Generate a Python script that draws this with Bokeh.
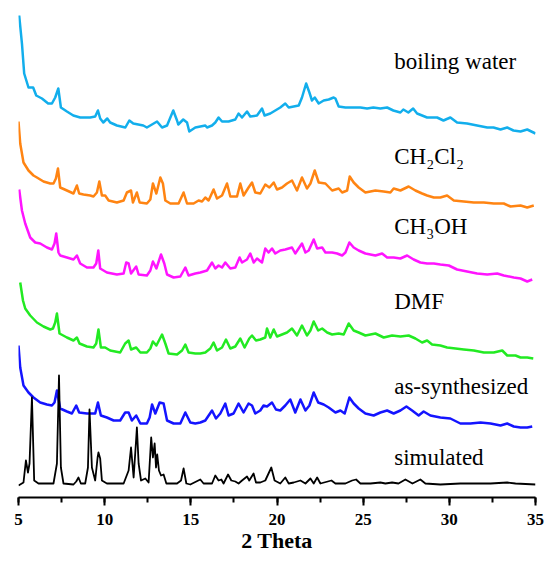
from bokeh.plotting import figure
from bokeh.models import Range1d, SingleIntervalTicker, ColumnDataSource
from bokeh.embed import file_html
from bokeh.resources import INLINE
from bokeh.core.properties import value

# ---- data: (2theta, stacked intensity in a.u.) ----
boiling_water = [(5.04,481),(5.20,453),(5.33,423),(5.58,409),(5.85,409),(6.03,401),(6.36,398),(6.72,393),(6.94,393),(7.13,399),(7.31,408),(7.46,389),(7.81,385),(8.18,381),(8.58,379),(9.16,379),(9.45,380),(9.61,386),(9.74,378),(9.92,374),(10.15,378),(10.32,374),(10.71,371),(11.20,369),(11.43,376),(11.66,373),(12.24,371),(12.45,369),(13.04,375),(13.33,369),(13.62,371),(13.98,386),(14.20,376),(14.27,372),(14.56,377),(14.78,374),(14.91,365),(15.26,369),(15.55,370),(15.84,371),(15.94,369),(16.23,371),(16.42,374),(16.61,379),(16.81,375),(17.19,375),(17.58,377),(17.77,383),(17.97,379),(18.26,385),(18.45,380),(18.84,381),(19.13,388),(19.28,381),(19.61,383),(19.90,386),(20.19,389),(20.48,393),(20.68,389),(21.26,391),(21.45,399),(21.69,413),(21.88,404),(22.03,396),(22.19,399),(22.42,393),(22.71,396),(23.00,397),(23.29,399),(23.39,398),(23.58,390),(23.97,389),(24.55,389),(24.84,389),(25.23,388),(25.59,389),(26.00,388),(26.39,389),(26.75,386),(27.16,384),(27.33,387),(27.62,384),(27.90,388),(28.13,383),(28.71,379),(29.29,379),(29.66,376),(30.06,379),(30.45,374),(31.03,373),(31.61,371),(32.20,369),(32.56,369),(32.97,367),(33.36,369),(33.72,366),(34.13,365),(34.52,367),(35.00,363)]

ch2cl2 = [(5.00,375),(5.10,353),(5.29,334),(5.58,326),(5.87,321),(6.07,319),(6.45,315),(6.84,313),(7.03,313),(7.17,318),(7.29,328),(7.42,309),(7.81,306),(8.19,303),(8.39,311),(8.52,303),(8.77,302),(9.16,301),(9.35,300),(9.55,304),(9.69,315),(9.84,301),(10.03,301),(10.23,296),(10.71,294),(11.10,296),(11.29,304),(11.53,306),(11.64,294),(11.87,304),(12.03,294),(12.45,293),(12.65,297),(12.80,313),(13.00,303),(13.23,319),(13.38,313),(13.52,296),(13.81,293),(14.29,293),(14.58,304),(14.78,293),(15.16,293),(15.45,296),(15.65,295),(15.84,299),(16.03,296),(16.32,307),(16.52,298),(16.81,301),(17.10,313),(17.29,300),(17.68,300),(17.87,313),(18.06,301),(18.35,309),(18.55,314),(18.74,304),(19.03,303),(19.32,312),(19.56,309),(19.81,314),(20.00,307),(20.29,309),(20.58,313),(20.87,316),(21.16,306),(21.45,319),(21.74,308),(21.94,313),(22.19,326),(22.42,314),(22.81,313),(23.20,306),(23.58,308),(23.78,304),(24.07,306),(24.22,320),(24.45,314),(24.74,309),(25.13,304),(25.71,306),(26.19,305),(26.58,304),(26.77,308),(27.16,306),(27.64,310),(28.03,306),(28.42,303),(28.71,301),(29.10,299),(29.48,299),(29.87,301),(30.26,296),(30.84,295),(31.42,294),(32.00,294),(32.58,293),(33.16,293),(33.55,290),(34.13,291),(34.52,289),(34.90,291)]

ch3oh = [(5.04,307),(5.20,286),(5.39,273),(5.68,259),(5.97,254),(6.26,253),(6.65,249),(6.94,247),(7.09,253),(7.19,263),(7.32,244),(7.42,241),(7.81,239),(8.19,237),(8.39,241),(8.58,233),(8.97,229),(9.35,229),(9.51,233),(9.63,246),(9.74,228),(10.13,224),(10.71,222),(11.10,223),(11.25,234),(11.39,233),(11.53,223),(11.83,230),(11.97,222),(12.45,221),(12.65,226),(12.80,235),(13.00,228),(13.27,242),(13.46,233),(13.62,222),(14.00,219),(14.39,220),(14.68,229),(14.87,221),(15.26,223),(15.55,224),(15.94,226),(16.23,234),(16.42,228),(16.61,231),(16.81,229),(17.00,234),(17.29,228),(17.58,229),(17.83,239),(17.97,234),(18.26,237),(18.45,243),(18.65,234),(18.84,238),(19.13,234),(19.32,248),(19.51,244),(19.71,248),(19.90,243),(20.19,246),(20.48,247),(20.87,249),(21.06,243),(21.45,253),(21.65,244),(21.84,246),(22.13,257),(22.33,248),(22.62,249),(22.81,244),(23.20,244),(23.49,243),(23.78,241),(23.97,244),(24.20,254),(24.45,249),(24.74,246),(25.13,243),(25.71,241),(26.10,243),(26.39,239),(26.77,239),(27.16,238),(27.55,241),(27.93,237),(28.32,234),(28.71,233),(29.10,233),(29.48,232),(29.97,231),(30.45,227),(31.03,225),(31.61,223),(32.20,222),(32.78,223),(33.16,221),(33.74,219),(34.13,218),(34.52,215),(34.81,217)]

dmf = [(5.10,214),(5.26,196),(5.39,188),(5.68,181),(6.07,174),(6.45,170),(6.84,167),(7.00,168),(7.13,174),(7.23,183),(7.38,163),(7.81,159),(8.19,156),(8.39,159),(8.54,153),(8.97,150),(9.35,149),(9.51,153),(9.64,167),(9.78,149),(10.03,149),(10.32,146),(10.90,144),(11.19,153),(11.39,156),(11.53,147),(11.83,149),(12.07,144),(12.45,144),(12.65,148),(12.80,155),(13.00,151),(13.33,162),(13.52,153),(13.71,143),(14.20,142),(14.49,146),(14.68,152),(14.87,144),(15.26,143),(15.55,143),(15.84,144),(16.13,148),(16.32,154),(16.52,146),(16.81,149),(17.04,157),(17.29,148),(17.58,150),(17.87,158),(18.12,149),(18.39,158),(18.55,161),(18.78,156),(19.03,157),(19.32,159),(19.42,168),(19.61,159),(19.81,167),(20.00,160),(20.29,162),(20.58,164),(20.87,168),(21.16,161),(21.45,171),(21.74,161),(21.94,166),(22.13,175),(22.39,166),(22.62,168),(22.91,164),(23.20,162),(23.58,163),(23.87,162),(24.16,173),(24.45,166),(24.74,164),(25.13,161),(25.71,163),(26.19,159),(26.68,161),(27.16,160),(27.64,161),(28.03,158),(28.42,154),(28.71,156),(29.00,152),(29.48,151),(29.87,149),(30.36,148),(30.84,147),(31.42,146),(32.00,144),(32.58,144),(33.07,146),(33.36,141),(33.84,141),(34.13,139),(34.52,139),(34.87,138)]

as_synthesized = [(5.00,151),(5.10,129),(5.29,111),(5.58,104),(5.87,99),(6.26,94),(6.65,92),(6.94,91),(7.09,94),(7.23,106),(7.42,88),(7.81,85),(8.10,83),(8.35,91),(8.52,84),(8.97,83),(9.45,83),(9.61,94),(9.78,81),(10.13,79),(10.52,76),(10.90,76),(11.19,84),(11.39,84),(11.58,76),(11.83,81),(12.07,73),(12.45,73),(12.61,79),(12.75,92),(12.94,83),(13.19,94),(13.42,93),(13.62,76),(14.00,73),(14.39,73),(14.68,84),(14.97,74),(15.26,73),(15.55,74),(15.84,76),(16.23,86),(16.46,78),(16.71,83),(17.00,93),(17.19,81),(17.48,83),(17.77,93),(18.06,84),(18.35,93),(18.55,91),(18.74,83),(19.03,86),(19.22,91),(19.42,90),(19.71,94),(19.94,87),(20.19,86),(20.48,91),(20.77,97),(21.06,84),(21.36,97),(21.65,86),(21.88,91),(22.13,104),(22.39,94),(22.71,92),(23.00,89),(23.39,84),(23.68,86),(23.93,83),(24.20,99),(24.45,93),(24.74,88),(25.13,83),(25.61,81),(26.00,84),(26.39,86),(26.77,83),(27.16,86),(27.51,90),(27.84,86),(28.22,81),(28.51,85),(28.90,81),(29.48,79),(30.06,78),(30.64,73),(31.22,73),(31.81,74),(32.39,73),(32.97,71),(33.36,73),(33.74,70),(34.13,69),(34.52,69),(34.81,70)]

simulated = [(5.00,11),(5.29,14),(5.43,36),(5.55,24),(5.64,33),(5.78,99),(5.91,16),(6.16,13),(7.03,13),(7.23,33),(7.35,121),(7.46,29),(7.61,13),(8.19,12),(8.35,15),(8.48,19),(8.62,13),(8.87,13),(9.03,29),(9.12,87),(9.26,29),(9.45,16),(9.59,39),(9.64,44),(9.74,38),(9.84,16),(10.13,13),(11.10,13),(11.39,26),(11.53,49),(11.68,19),(11.83,58),(11.87,69),(11.97,33),(12.11,16),(12.36,18),(12.55,14),(12.70,59),(12.80,39),(12.90,53),(12.98,29),(13.05,42),(13.15,26),(13.27,21),(13.42,22),(13.58,13),(14.20,13),(14.43,16),(14.58,28),(14.74,13),(14.97,12),(15.55,17),(15.74,13),(16.23,13),(16.42,21),(16.61,16),(16.77,17),(16.90,13),(17.16,22),(17.35,16),(17.58,15),(17.77,13),(17.97,16),(18.26,20),(18.39,16),(18.64,23),(18.78,14),(19.03,14),(19.32,16),(19.67,29),(19.86,16),(20.19,13),(20.48,19),(20.68,13),(20.97,14),(21.36,16),(21.65,13),(21.94,18),(22.13,13),(22.33,19),(22.52,13),(23.16,16),(23.39,13),(23.97,13),(24.36,16),(24.59,17),(24.84,13),(25.42,13),(26.00,14),(26.29,13),(26.68,14),(27.05,13),(27.45,17),(27.86,13),(28.32,17),(28.61,13),(29.48,12),(30.64,13),(31.61,13),(32.39,13),(33.36,14),(33.84,13),(35.00,12)]

series_names = ["boiling water", "CH\u2082Cl\u2082", "CH\u2083OH", "DMF", "as-synthesized", "simulated"]
series_colors = ["#12AEEC", "#FF8412", "#FF14FF", "#22EA22", "#1414FF", "#000000"]
label_heights = [435, 340, 270, 195, 110, 39]
label_x = 26.8
x_ticks_interval = 5
x_title = "2 Theta"

FONT = "Liberation Serif"

p = figure(width=545, height=562, x_range=Range1d(5, 35), y_range=Range1d(-1, 484),
           output_backend="svg", toolbar_location=None,
           min_border_left=18, min_border_right=10, min_border_top=12, min_border_bottom=65)

all_series = [boiling_water, ch2cl2, ch3oh, dmf, as_synthesized, simulated]
for data, col in zip(all_series, series_colors):
    xs = [d[0] for d in data]
    ys = [d[1] for d in data]
    lw = 1.8 if col == "#000000" else 2.5
    p.line(xs, ys, line_color=col, line_width=lw, line_join="round")

src = ColumnDataSource(dict(x=[label_x] * len(series_names), y=label_heights, t=series_names))
p.text(x="x", y="y", text="t", source=src, text_font=value(FONT), text_font_size="23px",
       text_color="black", text_baseline="alphabetic", text_align="left")

p.yaxis.visible = False
p.grid.visible = False
p.outline_line_color = None

ax = p.xaxis[0]
ax.ticker = SingleIntervalTicker(interval=x_ticks_interval, num_minor_ticks=2)
ax.axis_line_width = 2
ax.axis_line_color = "black"
ax.major_tick_line_width = 2
ax.major_tick_line_color = "black"
ax.major_tick_in = 0
ax.major_tick_out = 8
ax.minor_tick_line_width = 2
ax.minor_tick_line_color = "black"
ax.minor_tick_in = 0
ax.minor_tick_out = 5
ax.major_label_text_font = FONT
ax.major_label_text_font_style = "bold"
ax.major_label_text_font_size = "17px"
ax.major_label_text_color = "black"
ax.major_label_standoff = 8
ax.axis_label = x_title
ax.axis_label_text_font = FONT
ax.axis_label_text_font_style = "bold"
ax.axis_label_text_font_size = "22px"
ax.axis_label_text_color = "black"
ax.axis_label_standoff = 0

open("out.html", "w").write(file_html(p, INLINE))
